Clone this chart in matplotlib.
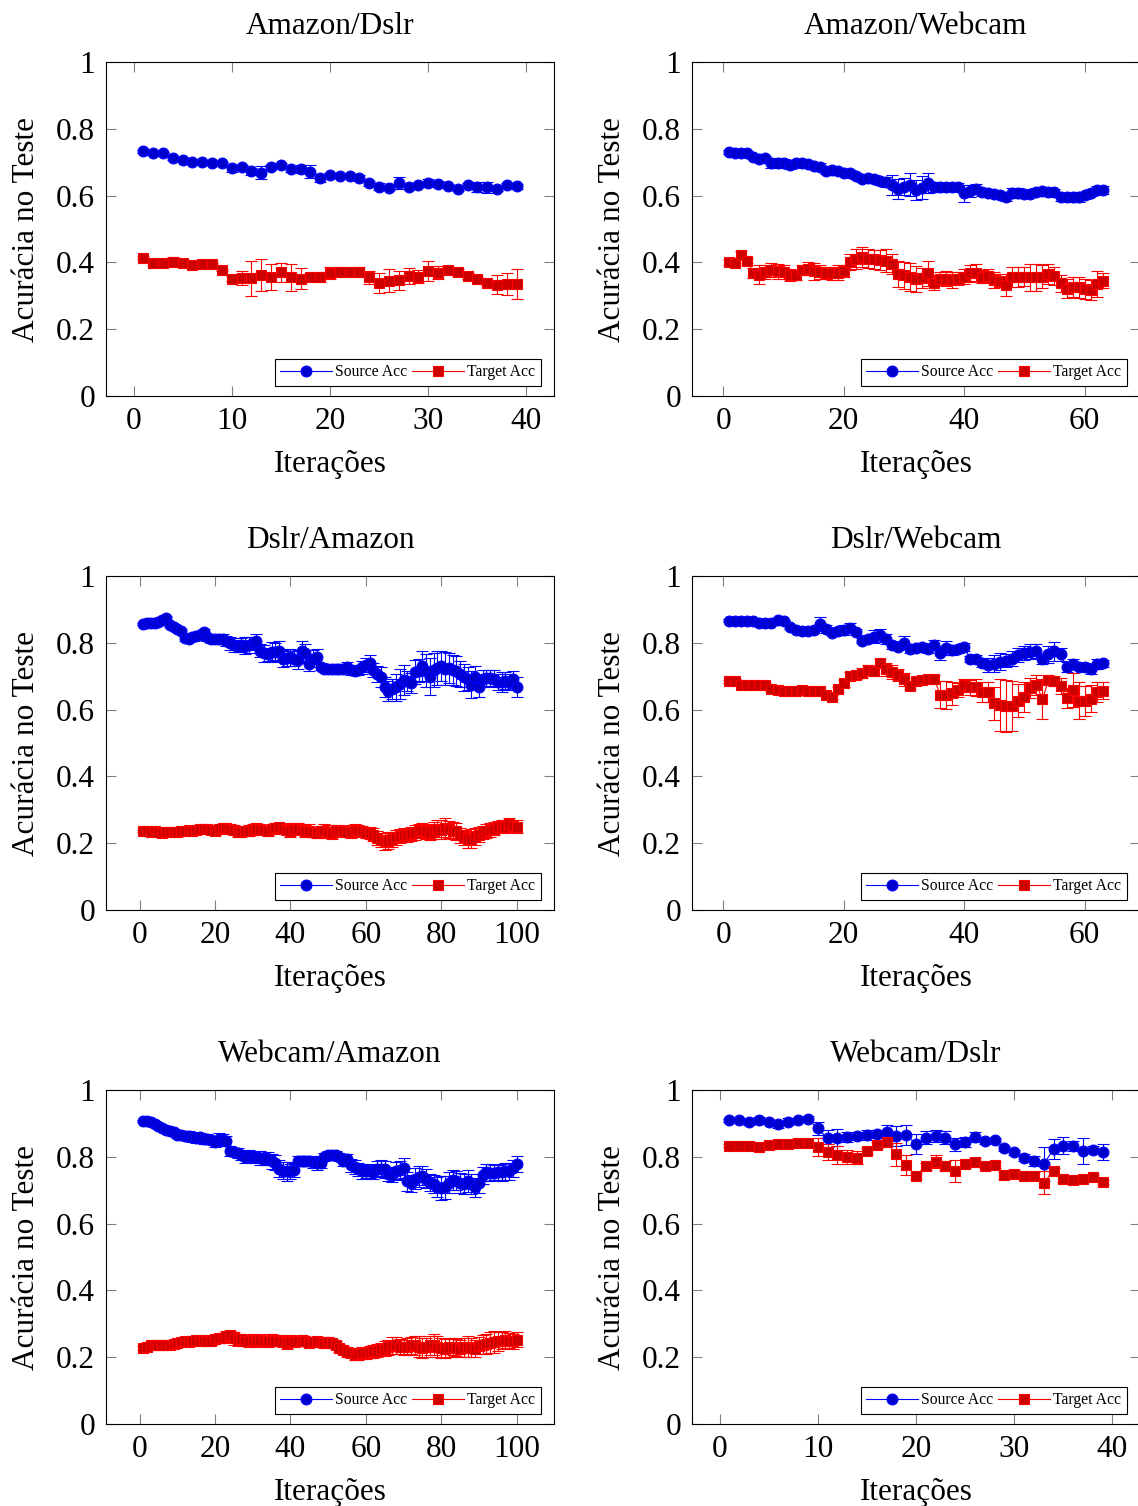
import matplotlib.pyplot as plt
import numpy as np

plt.rcParams['font.family'] = ['Liberation Serif', 'DejaVu Serif']

# Amazon/Dslr
ad_src = [0.733, 0.727, 0.727, 0.712, 0.708, 0.701, 0.700, 0.698, 0.697, 0.682,
          0.687, 0.673, 0.669, 0.685, 0.692, 0.679, 0.679, 0.672, 0.654, 0.661,
          0.658, 0.658, 0.653, 0.637, 0.627, 0.624, 0.639, 0.627, 0.631, 0.637,
          0.635, 0.630, 0.619, 0.631, 0.627, 0.625, 0.619, 0.631, 0.628]
ad_src_err = [0.004, 0.004, 0.004, 0.005, 0.005, 0.004, 0.004, 0.004, 0.004, 0.010,
              0.006, 0.010, 0.020, 0.006, 0.005, 0.008, 0.012, 0.020, 0.012, 0.006,
              0.006, 0.006, 0.008, 0.008, 0.010, 0.006, 0.018, 0.008, 0.006, 0.012,
              0.010, 0.006, 0.006, 0.006, 0.015, 0.016, 0.006, 0.008, 0.008]
ad_tgt = [0.414, 0.397, 0.399, 0.402, 0.399, 0.393, 0.396, 0.395, 0.377, 0.351,
          0.353, 0.352, 0.363, 0.356, 0.370, 0.355, 0.351, 0.356, 0.357, 0.368,
          0.372, 0.372, 0.372, 0.355, 0.338, 0.345, 0.346, 0.359, 0.357, 0.373,
          0.369, 0.377, 0.370, 0.359, 0.351, 0.337, 0.333, 0.336, 0.336]
ad_tgt_err = [0.004, 0.004, 0.006, 0.015, 0.008, 0.004, 0.004, 0.004, 0.004, 0.008,
              0.020, 0.052, 0.048, 0.039, 0.029, 0.040, 0.031, 0.010, 0.015, 0.018,
              0.015, 0.010, 0.015, 0.020, 0.030, 0.035, 0.028, 0.025, 0.020, 0.030,
              0.020, 0.008, 0.010, 0.008, 0.005, 0.005, 0.028, 0.033, 0.045]

# Amazon/Webcam
aw_src = [0.731, 0.729, 0.727, 0.729, 0.717, 0.709, 0.712, 0.697, 0.699, 0.697,
          0.691, 0.697, 0.699, 0.695, 0.689, 0.687, 0.675, 0.677, 0.673, 0.667,
          0.669, 0.659, 0.651, 0.653, 0.651, 0.645, 0.641, 0.633, 0.621, 0.627,
          0.633, 0.618, 0.624, 0.637, 0.627, 0.627, 0.627, 0.627, 0.625, 0.607,
          0.615, 0.621, 0.611, 0.609, 0.605, 0.601, 0.595, 0.607, 0.607, 0.605,
          0.605, 0.611, 0.613, 0.611, 0.611, 0.597, 0.595, 0.595, 0.597, 0.601,
          0.609, 0.617, 0.617]
aw_src_err = [0.005, 0.005, 0.005, 0.006, 0.008, 0.008, 0.008, 0.015, 0.015, 0.012,
              0.010, 0.008, 0.008, 0.008, 0.010, 0.012, 0.010, 0.010, 0.010, 0.008,
              0.008, 0.010, 0.010, 0.010, 0.012, 0.012, 0.015, 0.030, 0.030, 0.025,
              0.035, 0.030, 0.035, 0.030, 0.015, 0.015, 0.012, 0.012, 0.012, 0.025,
              0.018, 0.015, 0.012, 0.010, 0.010, 0.010, 0.012, 0.015, 0.015, 0.012,
              0.010, 0.012, 0.010, 0.008, 0.008, 0.012, 0.012, 0.015, 0.015, 0.010,
              0.010, 0.012, 0.012]
aw_tgt = [0.401, 0.399, 0.423, 0.405, 0.367, 0.363, 0.371, 0.377, 0.373, 0.371,
          0.361, 0.363, 0.377, 0.381, 0.373, 0.371, 0.367, 0.367, 0.369, 0.375,
          0.401, 0.411, 0.415, 0.411, 0.409, 0.407, 0.405, 0.395, 0.365, 0.361,
          0.357, 0.350, 0.354, 0.367, 0.339, 0.351, 0.351, 0.347, 0.351, 0.357,
          0.367, 0.369, 0.357, 0.359, 0.347, 0.345, 0.331, 0.357, 0.357, 0.357,
          0.355, 0.355, 0.357, 0.365, 0.359, 0.337, 0.321, 0.325, 0.325, 0.321,
          0.317, 0.335, 0.345]
aw_tgt_err = [0.008, 0.008, 0.012, 0.008, 0.015, 0.028, 0.020, 0.020, 0.022, 0.020,
              0.018, 0.015, 0.015, 0.020, 0.025, 0.020, 0.018, 0.020, 0.022, 0.018,
              0.025, 0.030, 0.030, 0.028, 0.028, 0.030, 0.035, 0.030, 0.040, 0.040,
              0.042, 0.038, 0.030, 0.038, 0.022, 0.020, 0.022, 0.025, 0.020, 0.022,
              0.025, 0.025, 0.020, 0.022, 0.025, 0.020, 0.033, 0.030, 0.030, 0.028,
              0.040, 0.040, 0.035, 0.030, 0.028, 0.025, 0.028, 0.030, 0.032, 0.030,
              0.030, 0.038, 0.022]

# Dslr/Amazon
da_src = [0.856, 0.858, 0.858, 0.860, 0.862, 0.868, 0.874, 0.852, 0.846, 0.840,
          0.836, 0.814, 0.812, 0.816, 0.820, 0.824, 0.832, 0.816, 0.810, 0.812,
          0.810, 0.812, 0.804, 0.798, 0.793, 0.789, 0.793, 0.791, 0.793, 0.798,
          0.804, 0.776, 0.769, 0.765, 0.773, 0.773, 0.776, 0.752, 0.754, 0.756,
          0.752, 0.750, 0.776, 0.769, 0.737, 0.752, 0.758, 0.729, 0.723, 0.723,
          0.721, 0.721, 0.723, 0.721, 0.727, 0.719, 0.715, 0.719, 0.727, 0.733,
          0.739, 0.719, 0.707, 0.697, 0.667, 0.657, 0.663, 0.667, 0.677, 0.689,
          0.685, 0.681, 0.713, 0.717, 0.731, 0.717, 0.699, 0.719, 0.725, 0.731,
          0.723, 0.725, 0.719, 0.715, 0.707, 0.697, 0.693, 0.675, 0.697, 0.667,
          0.693, 0.695, 0.695, 0.693, 0.683, 0.683, 0.687, 0.683, 0.691, 0.669]
da_src_err = [0.004, 0.004, 0.004, 0.004, 0.004, 0.005, 0.006, 0.006, 0.006, 0.006,
              0.006, 0.008, 0.008, 0.008, 0.008, 0.010, 0.010, 0.010, 0.012, 0.012,
              0.012, 0.015, 0.015, 0.020, 0.020, 0.018, 0.020, 0.025, 0.025, 0.020,
              0.022, 0.020, 0.025, 0.020, 0.030, 0.025, 0.030, 0.025, 0.022, 0.025,
              0.022, 0.028, 0.030, 0.028, 0.022, 0.025, 0.022, 0.010, 0.008, 0.008,
              0.008, 0.010, 0.010, 0.012, 0.015, 0.015, 0.010, 0.015, 0.020, 0.020,
              0.025, 0.020, 0.025, 0.030, 0.030, 0.030, 0.030, 0.040, 0.045, 0.045,
              0.030, 0.030, 0.035, 0.035, 0.045, 0.050, 0.055, 0.050, 0.050, 0.045,
              0.050, 0.045, 0.045, 0.045, 0.040, 0.040, 0.035, 0.040, 0.035, 0.030,
              0.025, 0.025, 0.025, 0.025, 0.025, 0.030, 0.025, 0.025, 0.025, 0.030]
da_tgt = [0.237, 0.236, 0.235, 0.236, 0.233, 0.232, 0.233, 0.234, 0.233, 0.235,
          0.236, 0.238, 0.240, 0.238, 0.241, 0.243, 0.244, 0.242, 0.240, 0.238,
          0.242, 0.245, 0.246, 0.243, 0.240, 0.235, 0.233, 0.236, 0.238, 0.241,
          0.244, 0.242, 0.240, 0.238, 0.242, 0.246, 0.248, 0.244, 0.240, 0.238,
          0.242, 0.244, 0.240, 0.236, 0.238, 0.234, 0.232, 0.236, 0.238, 0.235,
          0.232, 0.236, 0.238, 0.236, 0.233, 0.235, 0.238, 0.240, 0.236, 0.232,
          0.230, 0.226, 0.216, 0.210, 0.206, 0.208, 0.212, 0.218, 0.222, 0.226,
          0.224, 0.228, 0.232, 0.236, 0.240, 0.236, 0.232, 0.238, 0.244, 0.240,
          0.246, 0.242, 0.238, 0.236, 0.224, 0.218, 0.212, 0.214, 0.220, 0.226,
          0.232, 0.236, 0.240, 0.244, 0.248, 0.252, 0.250, 0.256, 0.252, 0.250]
da_tgt_err = [0.004, 0.004, 0.004, 0.004, 0.004, 0.004, 0.005, 0.005, 0.006, 0.006,
              0.006, 0.006, 0.008, 0.008, 0.008, 0.008, 0.010, 0.010, 0.010, 0.012,
              0.012, 0.012, 0.012, 0.015, 0.015, 0.015, 0.012, 0.012, 0.015, 0.015,
              0.015, 0.012, 0.012, 0.015, 0.015, 0.015, 0.012, 0.015, 0.015, 0.018,
              0.018, 0.015, 0.015, 0.018, 0.018, 0.015, 0.015, 0.015, 0.018, 0.020,
              0.018, 0.018, 0.015, 0.015, 0.015, 0.018, 0.018, 0.015, 0.015, 0.015,
              0.018, 0.020, 0.020, 0.022, 0.025, 0.025, 0.022, 0.022, 0.020, 0.020,
              0.020, 0.020, 0.022, 0.020, 0.020, 0.022, 0.022, 0.025, 0.025, 0.028,
              0.028, 0.025, 0.025, 0.025, 0.022, 0.022, 0.025, 0.028, 0.025, 0.022,
              0.020, 0.020, 0.020, 0.020, 0.018, 0.018, 0.018, 0.018, 0.018, 0.018]

# Dslr/Webcam
dw_src = [0.866, 0.866, 0.864, 0.864, 0.864, 0.860, 0.858, 0.860, 0.868, 0.864,
          0.846, 0.838, 0.836, 0.836, 0.838, 0.856, 0.842, 0.830, 0.836, 0.838,
          0.844, 0.832, 0.806, 0.810, 0.818, 0.822, 0.812, 0.792, 0.788, 0.800,
          0.780, 0.784, 0.788, 0.780, 0.794, 0.769, 0.784, 0.778, 0.782, 0.788,
          0.752, 0.752, 0.739, 0.733, 0.737, 0.743, 0.747, 0.752, 0.763, 0.769,
          0.773, 0.775, 0.752, 0.765, 0.775, 0.765, 0.729, 0.737, 0.729, 0.727,
          0.723, 0.737, 0.739]
dw_src_err = [0.004, 0.004, 0.004, 0.004, 0.004, 0.004, 0.004, 0.004, 0.005, 0.005,
              0.006, 0.006, 0.006, 0.006, 0.008, 0.020, 0.012, 0.008, 0.012, 0.015,
              0.015, 0.010, 0.008, 0.012, 0.020, 0.020, 0.015, 0.012, 0.010, 0.020,
              0.012, 0.012, 0.012, 0.010, 0.015, 0.020, 0.020, 0.015, 0.012, 0.012,
              0.008, 0.010, 0.012, 0.020, 0.025, 0.025, 0.020, 0.022, 0.020, 0.020,
              0.022, 0.020, 0.015, 0.025, 0.028, 0.020, 0.015, 0.015, 0.010, 0.012,
              0.015, 0.015, 0.010]
dw_tgt = [0.685, 0.687, 0.675, 0.673, 0.673, 0.675, 0.675, 0.661, 0.659, 0.655,
          0.655, 0.655, 0.659, 0.657, 0.657, 0.655, 0.645, 0.639, 0.661, 0.679,
          0.701, 0.703, 0.711, 0.719, 0.717, 0.739, 0.721, 0.713, 0.705, 0.691,
          0.671, 0.685, 0.689, 0.691, 0.693, 0.645, 0.645, 0.649, 0.659, 0.673,
          0.667, 0.667, 0.653, 0.653, 0.619, 0.613, 0.611, 0.611, 0.627, 0.639,
          0.665, 0.675, 0.631, 0.689, 0.687, 0.671, 0.635, 0.659, 0.627, 0.627,
          0.633, 0.653, 0.657]
dw_tgt_err = [0.004, 0.004, 0.004, 0.004, 0.004, 0.004, 0.004, 0.004, 0.004, 0.004,
              0.004, 0.004, 0.004, 0.004, 0.004, 0.004, 0.005, 0.006, 0.008, 0.010,
              0.012, 0.012, 0.015, 0.015, 0.015, 0.012, 0.020, 0.020, 0.018, 0.020,
              0.010, 0.010, 0.008, 0.008, 0.010, 0.040, 0.042, 0.035, 0.020, 0.020,
              0.022, 0.025, 0.030, 0.030, 0.050, 0.078, 0.079, 0.075, 0.050, 0.045,
              0.030, 0.030, 0.060, 0.015, 0.015, 0.025, 0.030, 0.050, 0.055, 0.045,
              0.040, 0.030, 0.025]

# Webcam/Amazon
wa_src = [0.908, 0.908, 0.904, 0.898, 0.892, 0.886, 0.880, 0.876, 0.874, 0.866,
          0.864, 0.862, 0.862, 0.858, 0.856, 0.858, 0.854, 0.852, 0.850, 0.844,
          0.852, 0.850, 0.848, 0.818, 0.814, 0.812, 0.806, 0.798, 0.802, 0.798,
          0.800, 0.796, 0.792, 0.794, 0.786, 0.782, 0.764, 0.758, 0.756, 0.756,
          0.760, 0.786, 0.788, 0.786, 0.788, 0.784, 0.780, 0.782, 0.798, 0.804,
          0.806, 0.805, 0.798, 0.788, 0.792, 0.774, 0.770, 0.762, 0.756, 0.756,
          0.758, 0.754, 0.764, 0.764, 0.762, 0.749, 0.745, 0.758, 0.760, 0.766,
          0.727, 0.721, 0.735, 0.741, 0.743, 0.735, 0.723, 0.719, 0.711, 0.707,
          0.709, 0.723, 0.731, 0.729, 0.721, 0.719, 0.727, 0.719, 0.709, 0.721,
          0.745, 0.754, 0.752, 0.752, 0.754, 0.754, 0.756, 0.756, 0.766, 0.778]
wa_src_err = [0.003, 0.003, 0.004, 0.004, 0.005, 0.006, 0.006, 0.008, 0.010, 0.010,
              0.012, 0.012, 0.015, 0.015, 0.015, 0.012, 0.015, 0.015, 0.012, 0.015,
              0.020, 0.018, 0.015, 0.015, 0.012, 0.015, 0.015, 0.018, 0.018, 0.015,
              0.018, 0.020, 0.018, 0.020, 0.022, 0.022, 0.025, 0.025, 0.028, 0.022,
              0.020, 0.015, 0.015, 0.015, 0.015, 0.018, 0.020, 0.015, 0.012, 0.012,
              0.012, 0.012, 0.012, 0.015, 0.015, 0.020, 0.020, 0.020, 0.022, 0.020,
              0.020, 0.020, 0.022, 0.025, 0.025, 0.020, 0.020, 0.025, 0.028, 0.030,
              0.028, 0.025, 0.030, 0.030, 0.028, 0.028, 0.025, 0.028, 0.030, 0.035,
              0.035, 0.030, 0.030, 0.028, 0.030, 0.030, 0.032, 0.030, 0.028, 0.028,
              0.025, 0.025, 0.025, 0.022, 0.022, 0.025, 0.025, 0.025, 0.025, 0.025]
wa_tgt = [0.228, 0.232, 0.236, 0.238, 0.236, 0.238, 0.236, 0.238, 0.240, 0.244,
          0.246, 0.248, 0.246, 0.250, 0.252, 0.250, 0.252, 0.248, 0.250, 0.254,
          0.256, 0.258, 0.262, 0.266, 0.256, 0.252, 0.254, 0.250, 0.248, 0.252,
          0.250, 0.252, 0.248, 0.250, 0.252, 0.248, 0.250, 0.246, 0.244, 0.248,
          0.246, 0.248, 0.250, 0.248, 0.244, 0.246, 0.248, 0.246, 0.244, 0.246,
          0.242, 0.236, 0.228, 0.222, 0.216, 0.212, 0.208, 0.210, 0.212, 0.214,
          0.216, 0.218, 0.220, 0.224, 0.226, 0.230, 0.234, 0.236, 0.232, 0.230,
          0.232, 0.234, 0.236, 0.232, 0.228, 0.230, 0.236, 0.238, 0.232, 0.228,
          0.226, 0.230, 0.232, 0.228, 0.226, 0.230, 0.232, 0.228, 0.226, 0.234,
          0.238, 0.240, 0.244, 0.246, 0.248, 0.250, 0.252, 0.250, 0.248, 0.252]
wa_tgt_err = [0.005, 0.005, 0.005, 0.006, 0.006, 0.006, 0.008, 0.008, 0.008, 0.010,
              0.010, 0.010, 0.012, 0.012, 0.012, 0.012, 0.012, 0.015, 0.012, 0.012,
              0.012, 0.015, 0.015, 0.012, 0.018, 0.018, 0.015, 0.015, 0.018, 0.018,
              0.018, 0.015, 0.015, 0.018, 0.018, 0.015, 0.015, 0.015, 0.018, 0.018,
              0.015, 0.015, 0.015, 0.012, 0.012, 0.012, 0.012, 0.012, 0.015, 0.015,
              0.012, 0.012, 0.012, 0.012, 0.015, 0.015, 0.015, 0.018, 0.018, 0.018,
              0.018, 0.020, 0.020, 0.020, 0.022, 0.022, 0.025, 0.025, 0.022, 0.022,
              0.025, 0.025, 0.028, 0.030, 0.030, 0.028, 0.028, 0.030, 0.032, 0.030,
              0.028, 0.028, 0.025, 0.025, 0.025, 0.028, 0.030, 0.028, 0.025, 0.025,
              0.028, 0.030, 0.030, 0.032, 0.028, 0.025, 0.025, 0.022, 0.022, 0.022]

# Webcam/Dslr
wd_src = [0.909, 0.909, 0.903, 0.909, 0.903, 0.897, 0.905, 0.909, 0.913, 0.885,
          0.855, 0.857, 0.859, 0.861, 0.865, 0.869, 0.875, 0.861, 0.865, 0.839,
          0.857, 0.863, 0.857, 0.837, 0.845, 0.859, 0.847, 0.849, 0.825, 0.813,
          0.797, 0.787, 0.778, 0.823, 0.833, 0.831, 0.817, 0.821, 0.815]
wd_src_err = [0.004, 0.004, 0.008, 0.010, 0.006, 0.010, 0.010, 0.006, 0.010, 0.020,
              0.025, 0.025, 0.015, 0.012, 0.015, 0.012, 0.020, 0.030, 0.030, 0.030,
              0.020, 0.018, 0.020, 0.020, 0.015, 0.015, 0.008, 0.006, 0.008, 0.008,
              0.010, 0.015, 0.050, 0.030, 0.025, 0.015, 0.040, 0.010, 0.024]
wd_tgt = [0.833, 0.833, 0.831, 0.829, 0.835, 0.837, 0.837, 0.841, 0.841, 0.829,
          0.815, 0.805, 0.799, 0.797, 0.817, 0.835, 0.843, 0.807, 0.775, 0.743,
          0.771, 0.785, 0.773, 0.757, 0.779, 0.785, 0.773, 0.775, 0.745, 0.749,
          0.743, 0.743, 0.723, 0.757, 0.735, 0.731, 0.733, 0.741, 0.725]
wd_tgt_err = [0.004, 0.004, 0.004, 0.004, 0.004, 0.004, 0.004, 0.004, 0.004, 0.026,
              0.024, 0.026, 0.020, 0.020, 0.010, 0.010, 0.005, 0.035, 0.030, 0.008,
              0.010, 0.020, 0.015, 0.032, 0.012, 0.010, 0.008, 0.010, 0.010, 0.012,
              0.010, 0.010, 0.035, 0.010, 0.010, 0.010, 0.008, 0.006, 0.005]

titles = ["Amazon/Dslr", "Amazon/Webcam", "Dslr/Amazon",
          "Dslr/Webcam", "Webcam/Amazon", "Webcam/Dslr"]
xticks = [[0, 10, 20, 30, 40], [0, 20, 40, 60], [0, 20, 40, 60, 80, 100],
          [0, 20, 40, 60], [0, 20, 40, 60, 80, 100], [0, 10, 20, 30, 40]]
yticks = [0, 0.2, 0.4, 0.6, 0.8, 1]
ytick_labels = ["0", "0.2", "0.4", "0.6", "0.8", "1"]
series = [(ad_src, ad_src_err, ad_tgt, ad_tgt_err),
          (aw_src, aw_src_err, aw_tgt, aw_tgt_err),
          (da_src, da_src_err, da_tgt, da_tgt_err),
          (dw_src, dw_src_err, dw_tgt, dw_tgt_err),
          (wa_src, wa_src_err, wa_tgt, wa_tgt_err),
          (wd_src, wd_src_err, wd_tgt, wd_tgt_err)]

W, H = 1138, 1506
fig = plt.figure(figsize=(W / 100, H / 100), dpi=100)
lefts = [106, 692]
tops = [62, 576, 1090]
aw_px, ah_px = 448, 334
fs = 22.5

for i, (src, src_err, tgt, tgt_err) in enumerate(series):
    row, col = divmod(i, 2)
    ax = fig.add_axes([lefts[col] / W, 1 - (tops[row] + ah_px) / H, aw_px / W, ah_px / H])
    n = len(src)
    x = np.arange(1, n + 1)
    s = ax.errorbar(x, src, yerr=src_err, color='blue', lw=0.8, marker='o', ms=7.8,
                    mfc=(0, 0, 0.8), mec='blue', mew=0.8, elinewidth=0.8,
                    capsize=4, capthick=0.8)
    t = ax.errorbar(x, tgt, yerr=tgt_err, color='red', lw=0.8, marker='s', ms=7.2,
                    mfc=(0.8, 0, 0), mec='red', mew=0.8, elinewidth=0.8,
                    capsize=4, capthick=0.8)
    pad = 0.1 * (n - 1)
    ax.set_xlim(1 - pad, n + pad)
    ax.set_ylim(0, 1)
    ax.set_xticks(xticks[i])
    ax.set_yticks(yticks)
    ax.set_yticklabels(ytick_labels)
    ax.tick_params(direction='in', top=True, right=True, length=7, width=0.8,
                   color='0.5', labelsize=fs, pad=8)
    for sp in ax.spines.values():
        sp.set_linewidth(0.8)
    ax.set_title(titles[i], fontsize=fs, pad=20)
    ax.set_xlabel("Iterações", fontsize=fs, labelpad=10)
    ax.set_ylabel("Acurácia no Teste", fontsize=fs, labelpad=11)
    leg = ax.legend([s[0], t[0]], ["Source Acc", "Target Acc"], loc='lower right',
                    bbox_to_anchor=(0.97, 0.03), borderaxespad=0, ncol=2,
                    fontsize=11.3, numpoints=1, handlelength=3.3, handletextpad=0.2,
                    columnspacing=0.3, borderpad=0.35, fancybox=False,
                    edgecolor='black', framealpha=1)
    leg.get_frame().set_linewidth(0.8)

fig.savefig("out.png", dpi=100)
